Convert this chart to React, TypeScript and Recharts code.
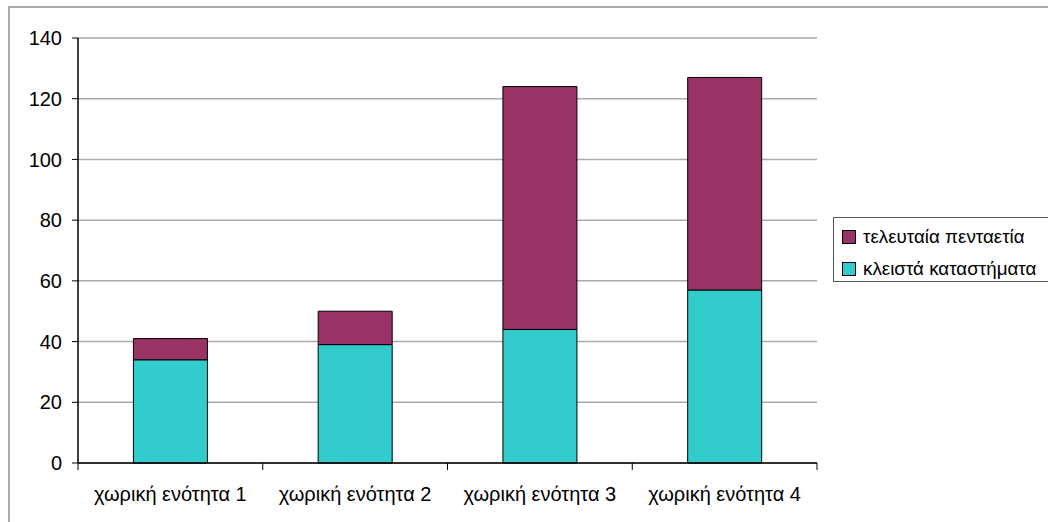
import React from 'react';
import { BarChart, Bar, XAxis, YAxis, CartesianGrid } from 'recharts';

const categories = ['χωρική ενότητα 1', 'χωρική ενότητα 2', 'χωρική ενότητα 3', 'χωρική ενότητα 4'];
const closedShops = [34, 39, 44, 57];
const lastFiveYears = [7, 11, 80, 70];
const yTicks = [0, 20, 40, 60, 80, 100, 120, 140];
const seriesNames = { closed: 'κλειστά καταστήματα', last5: 'τελευταία πενταετία' };

const data = categories.map((c, i) => ({ name: c, closed: closedShops[i], last5: lastFiveYears[i] }));

const CHART_W = 1038;
const CHART_H = 512;
const MARGIN = { top: 30, right: 231, left: 0, bottom: 0 };
const Y_W = 68;
const PLOT_W = CHART_W - MARGIN.left - MARGIN.right - Y_W;
const BAND = PLOT_W / categories.length;
const FONT = '"Liberation Sans", Arial, sans-serif';

const XTick = (props: any) => {
  const { x, y, payload, index } = props;
  const half = BAND / 2;
  const axisY = y - 8;
  return (
    <g>
      <line x1={x - half} x2={x - half} y1={axisY} y2={axisY + 7} stroke="#000" strokeWidth={1} />
      {index === categories.length - 1 && (
        <line x1={x + half} x2={x + half} y1={axisY} y2={axisY + 7} stroke="#000" strokeWidth={1} />
      )}
      <text x={x} y={y + 30} textAnchor="middle" fontSize={20} fontFamily={FONT} fill="#000">
        {payload.value}
      </text>
    </g>
  );
};

const LegendBox = () => (
  <div
    style={{
      position: 'absolute',
      left: 823,
      top: 209,
      width: 230,
      height: 65,
      border: '1.5px solid #555',
      boxSizing: 'border-box',
      background: '#fff',
      fontFamily: FONT,
      fontSize: 18.8,
      color: '#000',
    }}
  >
    {[
      { name: seriesNames.last5, color: '#993366' },
      { name: seriesNames.closed, color: '#33CCCC' },
    ].map((it, i) => (
      <div key={i} style={{ position: 'absolute', left: 8, top: 8 + i * 32, height: 22, display: 'flex', alignItems: 'center', whiteSpace: 'nowrap' }}>
        <span style={{ display: 'inline-block', width: 12, height: 12, background: it.color, border: '1px solid #000', marginRight: 7 }} />
        <span>{it.name}</span>
      </div>
    ))}
  </div>
);

export default function App() {
  return (
    <div
      style={{
        position: 'fixed',
        left: 8,
        top: 6,
        width: 1040,
        height: 516,
        borderTop: '2px solid #aaaaaa',
        borderLeft: '2px solid #aaaaaa',
        boxSizing: 'border-box',
        overflow: 'hidden',
        background: '#fff',
      }}
    >
      <BarChart width={CHART_W} height={CHART_H} data={data} margin={MARGIN} barCategoryGap="30%">
        <CartesianGrid vertical={false} stroke="#aaaaaa" strokeWidth={1.5} />
        <XAxis
          dataKey="name"
          height={57}
          axisLine={{ stroke: '#000', strokeWidth: 1.5 }}
          tickLine={false}
          interval={0}
          tick={<XTick />}
        />
        <YAxis
          width={Y_W}
          domain={[0, 140]}
          ticks={yTicks}
          interval={0}
          axisLine={{ stroke: '#000', strokeWidth: 1.5 }}
          tickLine={{ stroke: '#000' }}
          tickSize={6}
          tickMargin={10}
          tick={{ fontSize: 20, fontFamily: FONT, fill: '#000' }}
        />
        <YAxis
          yAxisId="right"
          orientation="right"
          width={0}
          domain={[0, 140]}
          tick={false}
          tickLine={false}
          axisLine={{ stroke: '#aaaaaa', strokeWidth: 1.5 }}
        />
        <Bar dataKey="closed" stackId="a" fill="#33CCCC" stroke="#000" strokeWidth={1} isAnimationActive={false} />
        <Bar dataKey="last5" stackId="a" fill="#993366" stroke="#000" strokeWidth={1} isAnimationActive={false} />
      </BarChart>
      <LegendBox />
    </div>
  );
}
